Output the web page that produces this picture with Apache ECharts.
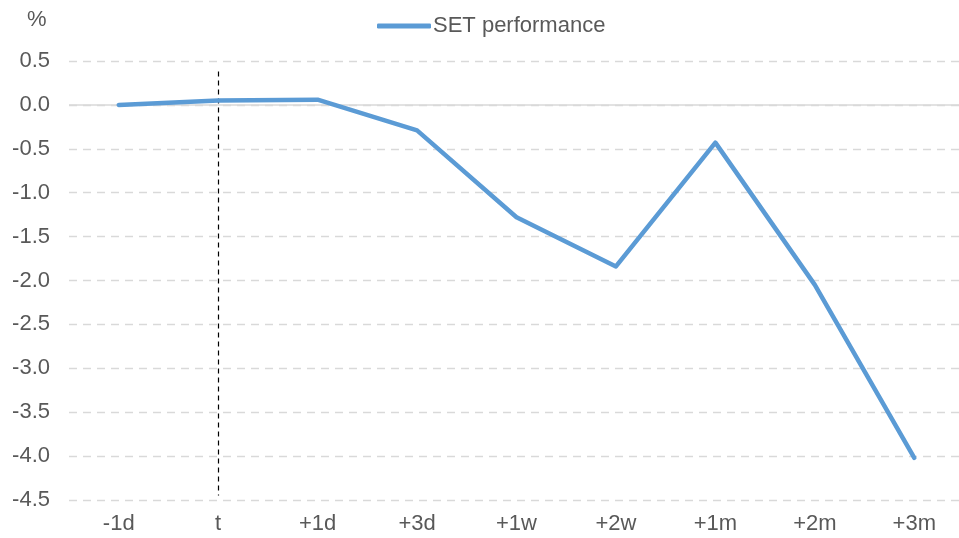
<!DOCTYPE html>
<html>
<head>
<meta charset="utf-8">
<script src="https://cdn.jsdelivr.net/npm/echarts@6/dist/echarts.min.js"></script>
<style>
  html, body { margin: 0; padding: 0; background: #fff; }
  #chart { width: 959px; height: 538px; }
</style>
</head>
<body>
<div id="chart"></div>
<script>
const categories = ['-1d', 't', '+1d', '+3d', '+1w', '+2w', '+1m', '+2m', '+3m'];
const setPerformance = [0.0, 0.05, 0.06, -0.29, -1.28, -1.84, -0.43, -2.05, -4.02];
const yMin = -4.5;
const yMax = 0.5;
const yStep = 0.5;
// event marker runs from just under the top gridline to near the bottom
const eventLine = ['t', 0.38, -4.45];

const chart = echarts.init(document.getElementById('chart'));
chart.setOption({
  animation: false,
  textStyle: { fontFamily: 'Liberation Sans, Arial, sans-serif' },
  graphic: [
    {
      type: 'text',
      left: 27,
      top: 9,
      style: { text: '%', fontSize: 22, fill: '#595959', fontFamily: 'Liberation Sans, Arial, sans-serif' }
    }
  ],
  legend: {
    left: 372,
    top: 10,
    itemWidth: 54,
    itemHeight: 5,
    itemGap: 4,
    icon: 'roundRect',
    textStyle: { fontSize: 22, color: '#595959', padding: [0, 0, 0, -3] },
    data: ['SET performance']
  },
  grid: {
    left: 69,
    top: 61,
    bottom: 38,
    width: 895,
    outerBoundsMode: 'none'
  },
  xAxis: {
    type: 'category',
    data: categories,
    boundaryGap: true,
    axisLine: { show: false },
    axisTick: { show: false },
    axisLabel: { fontSize: 22, color: '#595959', margin: 13 }
  },
  yAxis: {
    type: 'value',
    min: yMin,
    max: yMax,
    interval: yStep,
    axisLine: { show: false },
    axisTick: { show: false },
    axisLabel: {
      fontSize: 22,
      color: '#595959',
      margin: 19,
      formatter: v => v.toFixed(1)
    },
    splitLine: { lineStyle: { color: '#d9d9d9', type: [8, 6], width: 1.3 } }
  },
  series: [
    {
      name: 'SET performance',
      type: 'line',
      data: setPerformance,
      symbol: 'none',
      lineStyle: { color: '#5b9bd5', width: 4.5, cap: 'round', join: 'round' },
      itemStyle: { color: '#5b9bd5' },
      z: 5,
      markLine: {
        silent: true,
        symbol: 'none',
        label: { show: false },
        data: [
          { yAxis: 0, lineStyle: { color: '#d9d9d9', type: 'solid', width: 1.5 } },
          [
            { coord: [eventLine[0], eventLine[1]], lineStyle: { color: '#000', type: [5, 4], width: 1.2 } },
            { coord: [eventLine[0], eventLine[2]] }
          ]
        ]
      }
    }
  ]
});
</script>
</body>
</html>
